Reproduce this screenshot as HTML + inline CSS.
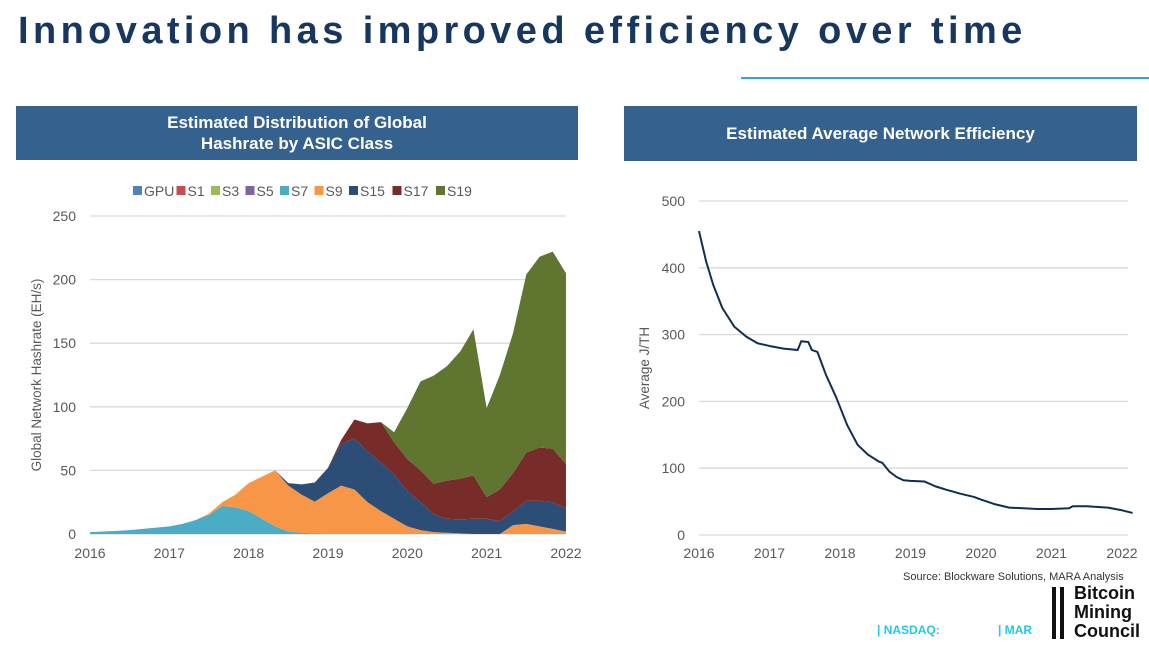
<!DOCTYPE html>
<html><head><meta charset="utf-8"><style>
body{margin:0;width:1149px;height:647px;background:#fff;font-family:"Liberation Sans",sans-serif;overflow:hidden;position:relative}
.t{position:absolute;left:18px;top:10px;font-size:38px;font-weight:bold;color:#17375e;letter-spacing:4.4px;white-space:nowrap}
.hl{position:absolute;left:741px;top:77px;width:408px;height:2px;background:#29a8e0}
.hd{position:absolute;background:#35618f;color:#fff;font-weight:bold;font-size:17px;display:flex;align-items:center;justify-content:center;text-align:center;line-height:21px}
svg{position:absolute;left:0;top:0}
</style></head><body>
<div class="t">Innovation has improved efficiency over time</div>
<div class="hl"></div>
<div class="hd" style="left:16px;top:106px;width:562px;height:54px">Estimated Distribution of Global<br>Hashrate by ASIC Class</div>
<div class="hd" style="left:624px;top:106px;width:513px;height:55px">Estimated Average Network Efficiency</div>
<svg id="s" width="1149" height="647"></svg>
<div style="position:absolute;left:903px;top:571px;font-size:11px;color:#333">Source: Blockware Solutions, MARA Analysis</div>
<div style="position:absolute;left:877px;top:623px;font-size:12px;font-weight:bold;color:#1ec8f0">| NASDAQ:</div>
<div style="position:absolute;left:998px;top:623px;font-size:12px;font-weight:bold;color:#1ec8f0">| MAR</div>
<div style="position:absolute;left:1052px;top:587px;width:4px;height:52px;background:#111"></div>
<div style="position:absolute;left:1060px;top:587px;width:4px;height:52px;background:#111"></div>
<div style="position:absolute;left:1074px;top:584px;font-size:18px;line-height:19px;font-weight:bold;color:#111">Bitcoin<br>Mining<br>Council</div>
<script>
const years=["2016","2017","2018","2019","2020","2021","2022"];
const leftTicks=[0,50,100,150,200,250];
const rightTicks=[0,100,200,300,400,500];
const seriesNames=["GPU","S1","S3","S5","S7","S9","S15","S17","S19"];
const seriesColors=["#4f81bd","#c0504d","#9bbb59","#8064a2","#4bacc6","#f79646","#2c4d75","#772c2a","#5f7530"];
const s7=[1.5,2,2.5,3,4,5,6,8,11,15,22,21,18,12,6,2,1,0.5,0,0,0,0,0,0,0,0,0,0,0,0,0,0,0,0,0,0,0];
const s9=[0,0,0,0,0,0,0,0,0,1,3,10,22,33,44,36,30,25,32,38,35,25,18,12,6,3,1.5,1,0.5,0,0,0,7,8,6,4,2];
const s15=[0,0,0,0,0,0,0,0,0,0,0,0,0,0,0,2,8,15,20,33,40,40,38,35,28,22,14,11,11,12,12,10,11,18,20,21,18];
const s17=[0,0,0,0,0,0,0,0,0,0,0,0,0,0,0,0,0,0,0,3,15,22,32,25,25,25,24,30,32,34,17,25,30,38,42,42,35];
const s19=[0,0,0,0,0,0,0,0,0,0,0,0,0,0,0,0,0,0,0,0,0,0,0,8,40,70,85,90,100,115,70,90,110,140,150,155,150];
const effT=[0,0.1,0.2,0.33,0.5,0.67,0.83,1.0,1.2,1.4,1.45,1.55,1.6,1.68,1.8,1.95,2.1,2.25,2.4,2.55,2.6,2.7,2.8,2.9,3.0,3.2,3.35,3.5,3.7,3.9,4.0,4.2,4.4,4.6,4.8,5.0,5.25,5.3,5.5,5.8,6.0,6.15];
const effV=[455,410,375,340,312,297,287,283,279,277,290,289,277,274,240,205,165,135,120,110,108,95,87,82,81,80,73,68,62,57,53,46,41,40,39,39,40,43,43,41,37,33];
const S=document.getElementById('s');const NS="http://www.w3.org/2000/svg";
function mk(tag,at,txt){const e=document.createElementNS(NS,tag);for(const k in at)e.setAttribute(k,at[k]);if(txt!=null)e.textContent=txt;S.appendChild(e);return e;}
const lx=t=>90+t*79.33, ly=v=>534-v*1.272;
leftTicks.forEach(v=>{const g=mk('line',{x1:90,x2:566,y1:ly(v),y2:ly(v),stroke:'#d9d9d9','stroke-width':1.3});

const t=mk('text',{x:76,y:ly(v)+5,'text-anchor':'end','font-size':14,fill:'#595959'},v);
});
years.forEach((y,i)=>{const t=mk('text',{x:lx(i),y:558,'text-anchor':'middle','font-size':14,fill:'#595959'},y);
});
const yt=mk('text',{transform:'translate(41,375) rotate(-90)','text-anchor':'middle','font-size':13.5,fill:'#595959'},'Global Network Hashrate (EH/s)');

const layers=[["S7",s7,4],["S9",s9,5],["S15",s15,6],["S17",s17,7],["S19",s19,8]];
const n=s7.length;let base=new Array(n).fill(0);
layers.forEach(([nm,arr,ci])=>{const top=base.map((b,i)=>b+arr[i]);
let d='';for(let i=0;i<n;i++)d+=(i?'L':'M')+lx(i/6)+','+ly(top[i]);
for(let i=n-1;i>=0;i--)d+='L'+lx(i/6)+','+ly(base[i]);
const p=mk('path',{d:d+'Z',fill:seriesColors[ci]});

base=top;});
let lxp=133;seriesNames.forEach((nm,i)=>{const r=mk('rect',{x:lxp,y:186,width:9,height:9,fill:seriesColors[i]});

const t=mk('text',{x:lxp+11,y:196,'font-size':14,fill:'#595959'},nm);

lxp+=13+nm.length*9+3.5;});
const rx=t=>699+t*70.5, ry=v=>535-v*0.668;
rightTicks.forEach(v=>{const g=mk('line',{x1:699,x2:1128,y1:ry(v),y2:ry(v),stroke:'#d9d9d9','stroke-width':1.3});

const t=mk('text',{x:685,y:ry(v)+5,'text-anchor':'end','font-size':14,fill:'#595959'},v);
});
years.forEach((y,i)=>{const t=mk('text',{x:rx(i),y:558,'text-anchor':'middle','font-size':14,fill:'#595959'},y);
});
const yt2=mk('text',{transform:'translate(649,368) rotate(-90)','text-anchor':'middle','font-size':13.5,fill:'#595959'},'Average J/TH');

let d2='';effT.forEach((t,i)=>{d2+=(i?'L':'M')+rx(t)+','+ry(effV[i]);});
const ln=mk('path',{d:d2,fill:'none',stroke:'#0f2f52','stroke-width':2,'stroke-linejoin':'round'});

</script>
</body></html>
